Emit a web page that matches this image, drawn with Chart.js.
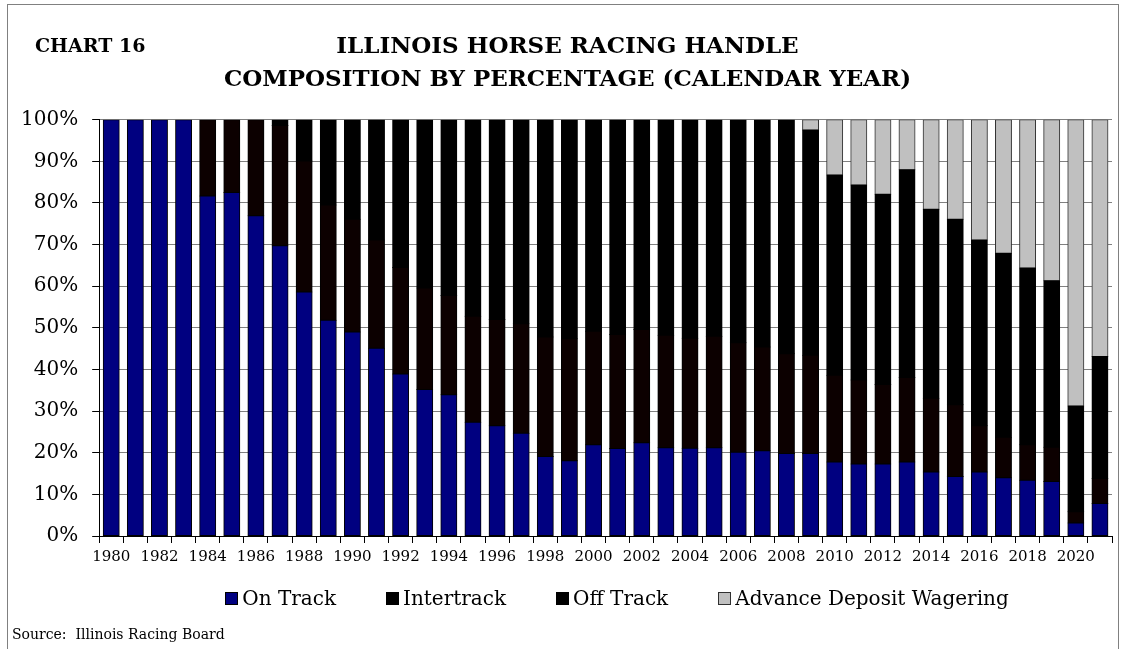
<!DOCTYPE html>
<html>
<head>
<meta charset="utf-8">
<script src="https://cdn.jsdelivr.net/npm/chart.js@4/dist/chart.umd.min.js"></script>
<style>
    body { margin: 0; background: #fff; }
    #wrap { position: relative; width: 1123px; height: 649px; overflow: hidden; }
    #frame { position: absolute; left: 7px; top: 4px; width: 1112px; height: 700px; border: 1px solid #808080; box-sizing: border-box; }
    #chartLabel { position: absolute; left: 35px; top: 34px; font: bold 19px 'DejaVu Serif'; color: #000; }
    #source { position: absolute; left: 12px; top: 626px; font: 14px 'DejaVu Serif'; color: #000; }
    #legend { position: absolute; left: 0; width: 1234px; top: 586px; display: flex; justify-content: center; gap: 50px; font: 20px 'DejaVu Serif'; color: #000; }
    #legend .item { display: flex; align-items: center; white-space: nowrap; }
    #legend .box { width: 11px; height: 11px; border: 1px solid #000; margin-right: 4px; }
    canvas { position: absolute; left: 0; top: 0; }
</style>
</head>
<body>
<div id="wrap">
    <div id="frame"></div>
    <canvas id="handleChart" width="1123" height="649"></canvas>
    <div id="chartLabel">CHART 16</div>
    <div id="legend"></div>
    <div id="source">Source:&nbsp; Illinois Racing Board</div>
</div>
<script>
// Calendar years 1980-2021
const years = [
    '1980', '1981', '1982', '1983', '1984', '1985', '1986', '1987', '1988', '1989',
    '1990', '1991', '1992', '1993', '1994', '1995', '1996', '1997', '1998', '1999',
    '2000', '2001', '2002', '2003', '2004', '2005', '2006', '2007', '2008', '2009',
    '2010', '2011', '2012', '2013', '2014', '2015', '2016', '2017', '2018', '2019',
    '2020', '2021'
];

// Share of handle, percent
const onTrack = [
    100, 100, 100, 100, 81.7, 82.5, 76.9, 69.7, 58.6, 51.8,
    49.0, 45.1, 38.9, 35.2, 33.9, 27.3, 26.5, 24.7, 19.1, 18.1,
    21.9, 21.0, 22.4, 21.2, 21.1, 21.2, 20.1, 20.5, 19.8, 19.8,
    17.8, 17.3, 17.3, 17.8, 15.4, 14.3, 15.4, 14.0, 13.4, 13.1,
    3.1, 7.8
];
const intertrack = [
    0, 0, 0, 0, 18.3, 17.5, 23.1, 28.9, 31.5, 27.7,
    27.1, 26.0, 25.6, 24.4, 23.9, 25.5, 25.5, 26.3, 28.7, 29.3,
    27.3, 27.4, 27.2, 27.0, 26.4, 26.8, 26.3, 24.9, 24.0, 23.6,
    20.8, 20.2, 19.1, 20.3, 17.7, 17.2, 11.1, 9.7, 8.5, 8.2,
    2.7, 6.0
];
const offTrack = [
    0, 0, 0, 0, 0, 0, 0, 1.4, 9.9, 20.5,
    23.9, 28.9, 35.5, 40.4, 42.2, 47.2, 48.0, 49.0, 52.2, 52.6,
    50.8, 51.6, 50.4, 51.8, 52.5, 52.0, 53.6, 54.6, 56.2, 54.1,
    48.1, 46.8, 45.7, 49.9, 45.4, 44.6, 44.6, 44.2, 42.5, 40.0,
    25.4, 29.3
];
const advanceDeposit = [
    0, 0, 0, 0, 0, 0, 0, 0, 0, 0,
    0, 0, 0, 0, 0, 0, 0, 0, 0, 0,
    0, 0, 0, 0, 0, 0, 0, 0, 0, 2.5,
    13.3, 15.7, 17.9, 12.0, 21.5, 23.9, 28.9, 32.1, 35.6, 38.7,
    68.8, 56.9
];

const yTicks = [0, 10, 20, 30, 40, 50, 60, 70, 80, 90, 100];

// zero-height segments are skipped so they don't leave stray border lines
const noZero = arr => arr.map(v => (v === 0 ? null : v));

function makeSet(label, data, fill, border, legendFill) {
    return {
        label: label,
        data: noZero(data),
        backgroundColor: fill,
        borderColor: border,
        legendFill: legendFill || fill,
        borderWidth: 1,
        borderSkipped: false,
        inflateAmount: 0.5,
        barPercentage: 0.66,
        categoryPercentage: 1.0
    };
}

// nudge the title a little right of the canvas centre, like the original
const titleNudge = {
    id: 'titleNudge',
    afterLayout(chart) {
        chart.titleBlock.left += 8;
        chart.titleBlock.right += 8;
    }
};

const handleChart = new Chart(document.getElementById('handleChart'), {
    type: 'bar',
    data: {
        labels: years,
        datasets: [
            makeSet('On Track', onTrack, '#000080', '#000000'),
            makeSet('Intertrack', intertrack, '#0c0000', '#000000', '#000000'),
            makeSet('Off Track', offTrack, '#000000', '#000000'),
            makeSet('Advance Deposit Wagering', advanceDeposit, '#c0c0c0', '#303030')
        ]
    },
    plugins: [titleNudge],
    options: {
        responsive: false,
        animation: false,
        layout: {
            padding: { left: 7, right: 11, top: 0, bottom: 78 }
        },
        plugins: {
            title: {
                display: true,
                text: ['ILLINOIS HORSE RACING HANDLE', 'COMPOSITION BY PERCENTAGE (CALENDAR YEAR)'],
                color: '#000',
                font: { family: 'DejaVu Serif', size: 23, weight: 'bold', lineHeight: 1.45 },
                padding: { top: 30, bottom: 23 }
            },
            legend: { display: false },
            tooltip: { enabled: false }
        },
        scales: {
            x: {
                stacked: true,
                grid: {
                    offset: true,
                    drawOnChartArea: false,
                    tickLength: 7,
                    color: '#000'
                },
                border: { color: '#000', width: 1 },
                ticks: {
                    autoSkip: false,
                    maxRotation: 0,
                    padding: 5,
                    color: '#000',
                    font: { family: 'DejaVu Serif', size: 15 },
                    callback: function(value, index) {
                        return index % 2 === 0 ? years[index] : '';
                    }
                }
            },
            y: {
                stacked: true,
                min: 0,
                max: 100,
                afterBuildTicks: function(axis) {
                    axis.ticks = yTicks.map(v => ({ value: v }));
                },
                grid: {
                    color: '#808080',
                    tickColor: '#000',
                    tickLength: 7
                },
                border: { color: '#000', width: 1 },
                ticks: {
                    padding: 14,
                    color: '#000',
                    font: { family: 'DejaVu Serif', size: 20 },
                    callback: function(value) {
                        return value + '%';
                    }
                }
            }
        }
    }
});

// HTML legend built from the datasets
const legendEl = document.getElementById('legend');
handleChart.data.datasets.forEach(ds => {
    const item = document.createElement('div');
    item.className = 'item';
    const box = document.createElement('span');
    box.className = 'box';
    box.style.background = ds.legendFill;
    box.style.borderColor = ds.borderColor;
    item.appendChild(box);
    item.appendChild(document.createTextNode(ds.label));
    legendEl.appendChild(item);
});
</script>
</body>
</html>
